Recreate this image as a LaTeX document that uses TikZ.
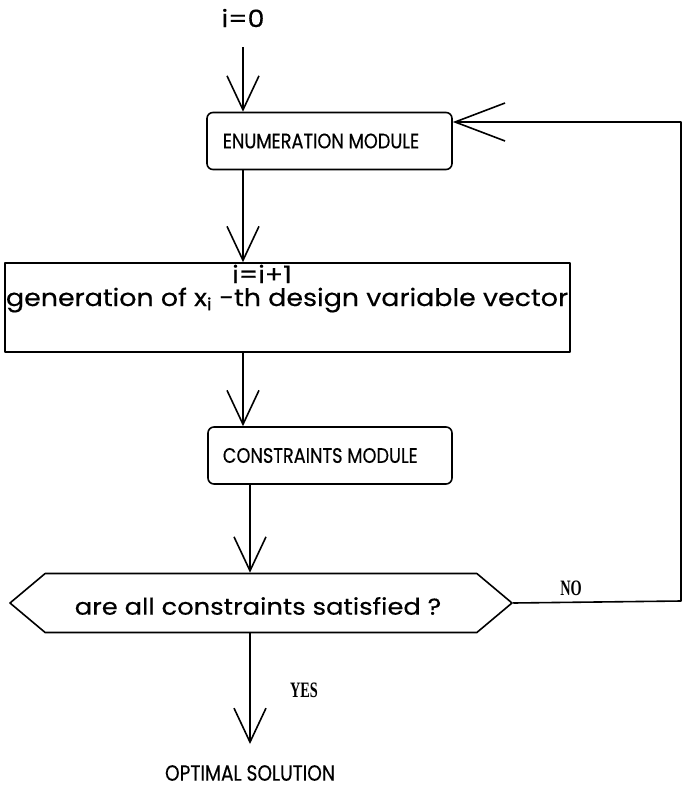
\documentclass[tikz,border=0pt]{standalone}
\usepackage{fontspec}
\setmainfont{Poppins}
\newfontfamily\capfont[FakeStretch=0.845,FakeBold=0.4]{Poppins}
\newfontfamily\lcfont[FakeStretch=1.12,FakeBold=0.4]{Poppins}
\newfontfamily\lblfont[FakeStretch=0.65]{Liberation Serif}
\usetikzlibrary{arrows.meta,shapes.symbols}
\begin{document}
\begin{tikzpicture}[x=1pt,y=-1pt,line width=1.6pt,line join=round,
  flow/.style={-{Straight Barb[length=34pt,width=32pt]}},
  backflow/.style={-{Straight Barb[length=50pt,width=38pt]}},
  module/.style={draw,rounded corners=6pt,minimum height=57pt,inner sep=0pt},
  procbox/.style={draw,minimum width=565pt,minimum height=89pt,inner sep=0pt},
  decision/.style={draw,shape=signal,signal to=west and east,signal pointer angle=80,
    minimum width=502pt,minimum height=59pt,inner sep=0pt},
  captxt/.style={font=\capfont\fontsize{21}{24}\selectfont,inner sep=0pt},
  lctxt/.style={font=\lcfont\fontsize{24}{28}\selectfont,inner sep=0pt},
  yn/.style={font=\lblfont\bfseries\fontsize{22}{24}\selectfont,inner sep=0pt}]
\useasboundingbox (0,0) rectangle (683,788);
% nodes
\node[lctxt] (i0) at (243,18) {i=0};
\coordinate (s0) at (243,47);
\node[module,minimum width=245pt] (enum) at (329.5,141) {};
\node[captxt,anchor=west] (enumt) at (222,141) {ENUMERATION MODULE};
\node[procbox] (gen) at (287.5,307.5) {};
\node[lctxt,anchor=base] (geni) at (262,283) {i=i+1};
\node[lctxt,anchor=base] (gent) at (287,306) {generation of x\textsubscript{i} -th design variable vector};
\node[module,minimum width=244pt] (cons) at (330,455.5) {};
\node[captxt,anchor=west] (const) at (222,455.5) {CONSTRAINTS MODULE};
\node[decision] (dec) at (261,603) {};
\node[lctxt,font=\lcfont\fontsize{23}{26}\selectfont] (dect) at (258,606) {are all constraints satisfied ?};
\node[yn] (no) at (571,588) {NO};
\node[yn] (yes) at (304,690) {YES};
\node[captxt,font=\capfont\fontsize{22}{25}\selectfont] (opt) at (250,773) {OPTIMAL SOLUTION};
\coordinate (e0) at (250,744);
\coordinate (c1) at (681,601);
\coordinate (c2) at (681,122);
\coordinate (xa) at (243,0);
\coordinate (xb) at (250,0);
% connectors
\draw[flow] (s0) -- (enum.north -| s0);
\draw[flow] (enum.south -| xa) -- (gen.north -| xa);
\draw[flow] (gen.south -| xa) -- (cons.north -| xa);
\draw[flow] (cons.south -| xb) -- (dec.north -| xb);
\draw[flow] (dec.south -| xb) -- (e0);
\draw[backflow] (dec.east) -- (c1) -- (c2) -- (enum.east |- c2);
\end{tikzpicture}
\end{document}
